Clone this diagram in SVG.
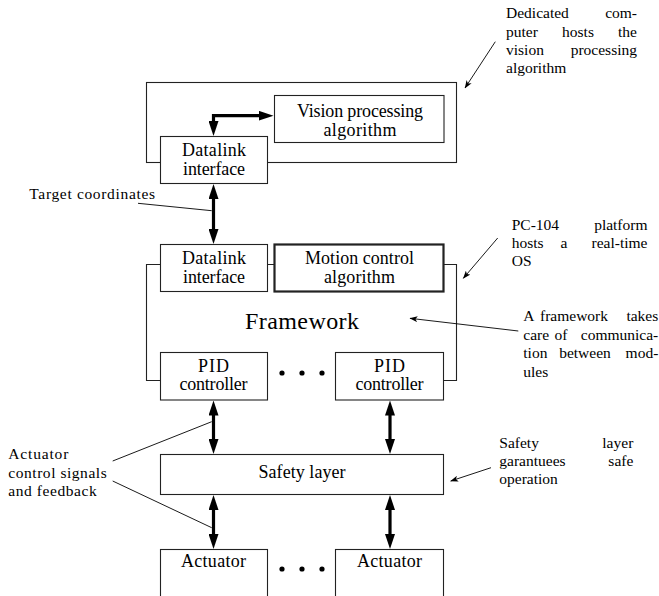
<svg xmlns="http://www.w3.org/2000/svg" width="659" height="596" viewBox="0 0 659 596">
<style>
.box{fill:#fff;stroke:#222;stroke-width:1.1}
.bold{stroke-width:2.2}
.t{font-family:'Liberation Serif',serif;font-size:18px;fill:#000}
.c{text-anchor:middle}
.a{font-family:'Liberation Serif',serif;font-size:15.5px;fill:#000}
.e{text-anchor:end}
.thick{fill:none;stroke:#000;stroke-width:3.2;marker-start:url(#ah);marker-end:url(#ah)}
.thin{fill:none;stroke:#000;stroke-width:0.9}
.arr{marker-end:url(#sa)}
</style>
<defs>
<marker id="ah" viewBox="0 0 15 10" refX="0.5" refY="5" markerWidth="15" markerHeight="10" markerUnits="userSpaceOnUse" orient="auto-start-reverse"><path d="M0,0 L15,5 L0,10 z" fill="#000"/></marker>
<marker id="sa" viewBox="0 0 8 6" refX="7.5" refY="3" markerWidth="8" markerHeight="6" markerUnits="userSpaceOnUse" orient="auto"><path d="M0,0 L8,3 L0,6 L2,3 z" fill="#000"/></marker>
</defs>

<g id="vision-computer">
<rect class="box" x="146.5" y="82.5" width="310" height="80"/>
</g>
<g id="vision-algorithm">
<rect class="box" x="274.5" y="95.5" width="169.5" height="47"/>
<text class="t c" x="360" y="117" textLength="126">Vision processing</text>
<text class="t c" x="360" y="136" textLength="73">algorithm</text>
</g>
<g id="datalink-top">
<rect class="box" x="160.5" y="136.5" width="107" height="47"/>
<text class="t c" x="214" y="155.5" textLength="64">Datalink</text>
<text class="t c" x="214" y="174.5" textLength="62">interface</text>
</g>

<g id="framework">
<path class="box" style="fill:none" d="M160,380.5 H146.5 V264.5 H456.5 V380.5 H443"/>
<text class="t c" style="font-size:24px" x="302" y="329" textLength="114">Framework</text>
</g>
<g id="datalink-mid">
<rect class="box" x="160.5" y="244.5" width="107" height="47"/>
<text class="t c" x="214" y="263.5" textLength="64">Datalink</text>
<text class="t c" x="214" y="282.5" textLength="62">interface</text>
</g>
<g id="motion-control">
<rect class="box bold" x="274.5" y="244.5" width="169" height="47"/>
<text class="t c" x="359.5" y="263.5" textLength="109">Motion control</text>
<text class="t c" x="359.5" y="282.5" textLength="71">algorithm</text>
</g>
<g id="pid-1">
<rect class="box" x="160.5" y="352.5" width="107" height="47.5"/>
<text class="t c" x="213.5" y="371.7" textLength="31">PID</text>
<text class="t c" x="213.5" y="390" textLength="68">controller</text>
</g>
<g id="pid-dots">
<circle cx="282" cy="373" r="2.6"/><circle cx="302" cy="373" r="2.6"/><circle cx="322" cy="373" r="2.6"/>
</g>
<g id="pid-n">
<rect class="box" x="335.5" y="352.5" width="108" height="47.5"/>
<text class="t c" x="389.5" y="371.7" textLength="31">PID</text>
<text class="t c" x="389.5" y="390" textLength="68">controller</text>
</g>
<g id="safety-layer">
<rect class="box" x="160.5" y="454.5" width="283" height="40"/>
<text class="t c" x="302" y="478" textLength="87">Safety layer</text>
</g>
<g id="actuator-1">
<rect class="box" x="160.5" y="549.5" width="107" height="60"/>
<text class="t c" x="213.5" y="567" textLength="65">Actuator</text>
</g>
<g id="actuator-dots">
<circle cx="282" cy="569" r="2.6"/><circle cx="302" cy="569" r="2.6"/><circle cx="322" cy="569" r="2.6"/>
</g>
<g id="actuator-n">
<rect class="box" x="335.5" y="549.5" width="108" height="60"/>
<text class="t c" x="389.5" y="567" textLength="65">Actuator</text>
</g>

<g id="connectors">
<path class="thick" d="M213.5,121.5 V115.7 H259"/>
<path class="thick" d="M213.5,198.5 V229.5"/>
<path class="thick" d="M213.5,415 V439.5"/>
<path class="thick" d="M390,415 V439.5"/>
<path class="thick" d="M213.5,509.5 V534.5"/>
<path class="thick" d="M390,509.5 V534.5"/>
<path class="thin" d="M138,203.3 L211.7,210.7"/>
<path class="thin" d="M112.7,461 L211.7,421.7"/>
<path class="thin" d="M112.7,481 L211.7,527.7"/>
<path class="thin arr" d="M495.3,41.7 L465,88"/>
<path class="thin arr" d="M497.7,238 L463.3,278.3"/>
<path class="thin arr" d="M518.3,331 L410,318.3"/>
<path class="thin arr" d="M491,467.7 L450.7,481"/>
</g>

<g id="notes">
<text class="a" x="29.3" y="199.3" textLength="125.7">Target coordinates</text>
<text class="a" x="8.3" y="459.3" textLength="60">Actuator</text>
<text class="a" x="8.3" y="477.5" textLength="98.4">control signals</text>
<text class="a" x="8.3" y="495.7" textLength="88.4">and feedback</text>

<text class="a" x="506" y="18.3">Dedicated</text><text class="a e" x="637" y="18.3">com-</text>
<text class="a" x="506" y="36.7">puter</text><text class="a c" x="578" y="36.7">hosts</text><text class="a e" x="637" y="36.7">the</text>
<text class="a" x="506" y="55">vision</text><text class="a e" x="637" y="55">processing</text>
<text class="a" x="506" y="73.3">algorithm</text>

<text class="a" x="511.7" y="230">PC-104</text><text class="a e" x="647.5" y="230">platform</text>
<text class="a" x="511.7" y="248.3">hosts</text><text class="a c" x="564" y="248.3">a</text><text class="a e" x="647.5" y="248.3">real-time</text>
<text class="a" x="511.7" y="266">OS</text>

<text class="a" x="523.3" y="321">A</text><text class="a c" x="574" y="321">framework</text><text class="a e" x="658.3" y="321">takes</text>
<text class="a" x="523.3" y="339.7">care</text><text class="a c" x="561" y="339.7">of</text><text class="a e" x="658.3" y="339.7">communica-</text>
<text class="a" x="523.3" y="358.3">tion</text><text class="a c" x="585" y="358.3">between</text><text class="a e" x="658.3" y="358.3">mod-</text>
<text class="a" x="523.3" y="377">ules</text>

<text class="a" x="499.3" y="448.3">Safety</text><text class="a e" x="633.3" y="448.3">layer</text>
<text class="a" x="499.3" y="466.2">garantuees</text><text class="a e" x="633.3" y="466.2">safe</text>
<text class="a" x="499.3" y="484">operation</text>
</g>
</svg>
